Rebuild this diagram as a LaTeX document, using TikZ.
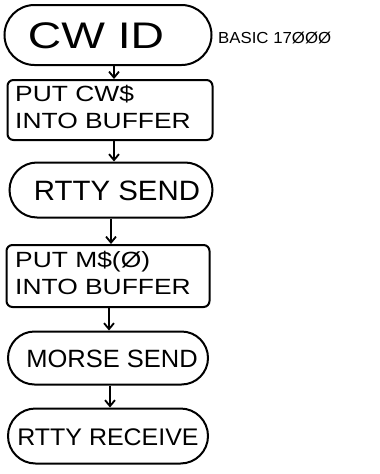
\documentclass[tikz,border=0pt]{standalone}
\usepackage{fontspec}
\setmainfont{Liberation Sans}
\usetikzlibrary{shapes.misc,arrows.meta}
\begin{document}
\begin{tikzpicture}[x=1pt,y=-1pt,
  term/.style={draw,line width=2pt,rounded rectangle,inner sep=0pt},
  proc/.style={draw,line width=2pt,rectangle,rounded corners=6pt,inner sep=0pt},
  label/.style={inner sep=0pt},
  flow/.style={line width=1.8pt,-{Straight Barb[length=6pt,width=10pt,line width=1.8pt]}}]
\useasboundingbox (0,0) rectangle (380,474);
\node[term,minimum width=207pt,minimum height=60pt] (cw) at (108,35) {};
\node[label] (cwt) at (96,36)
  {\fontsize{37}{37}\selectfont\scalebox{1.25}[1]{CW ID}};
\node[proc,minimum width=205pt,minimum height=60pt] (put1) at (110,110) {};
\node[label,anchor=west] (put1t) at (15,110)
  {\fontsize{22}{27}\selectfont\scalebox{1.2}[1]{\begin{tabular}{@{}l@{}}PUT CW\$\\INTO BUFFER\end{tabular}}};
\node[term,minimum width=203pt,minimum height=55pt] (rtty) at (111,190) {};
\node[label] (rttyt) at (117,191)
  {\fontsize{28}{28}\selectfont\scalebox{1.05}[1]{RTTY SEND}};
\node[proc,minimum width=203pt,minimum height=62pt] (put2) at (108,276) {};
\node[label,anchor=west] (put2t) at (15,276)
  {\fontsize{22}{27}\selectfont\scalebox{1.2}[1]{\begin{tabular}{@{}l@{}}PUT M\$(Ø)\\INTO BUFFER\end{tabular}}};
\node[term,minimum width=200pt,minimum height=53pt] (morse) at (108,358) {};
\node[label] (morset) at (112,359)
  {\fontsize{25}{25}\selectfont\scalebox{1.02}[1]{MORSE SEND}};
\node[term,minimum width=200pt,minimum height=55pt] (recv) at (108,436) {};
\node[label] (recvt) at (108,437)
  {\fontsize{24}{24}\selectfont\scalebox{1.04}[1]{RTTY RECEIVE}};
\node[label,anchor=west] (basic) at (218,38)
  {\fontsize{16}{16}\selectfont\scalebox{1.05}[1]{BASIC 17ØØØ}};
\draw[flow] (cw.south -| 114,0) -- (put1.north -| 114,0);
\draw[flow] (put1.south -| 114,0) -- (rtty.north -| 114,0);
\draw[flow] (rtty.south -| 111,0) -- (put2.north -| 111,0);
\draw[flow] (put2.south -| 109,0) -- (morse.north -| 109,0);
\draw[flow] (morse.south -| 110,0) -- (recv.north -| 110,0);
\end{tikzpicture}
\end{document}
